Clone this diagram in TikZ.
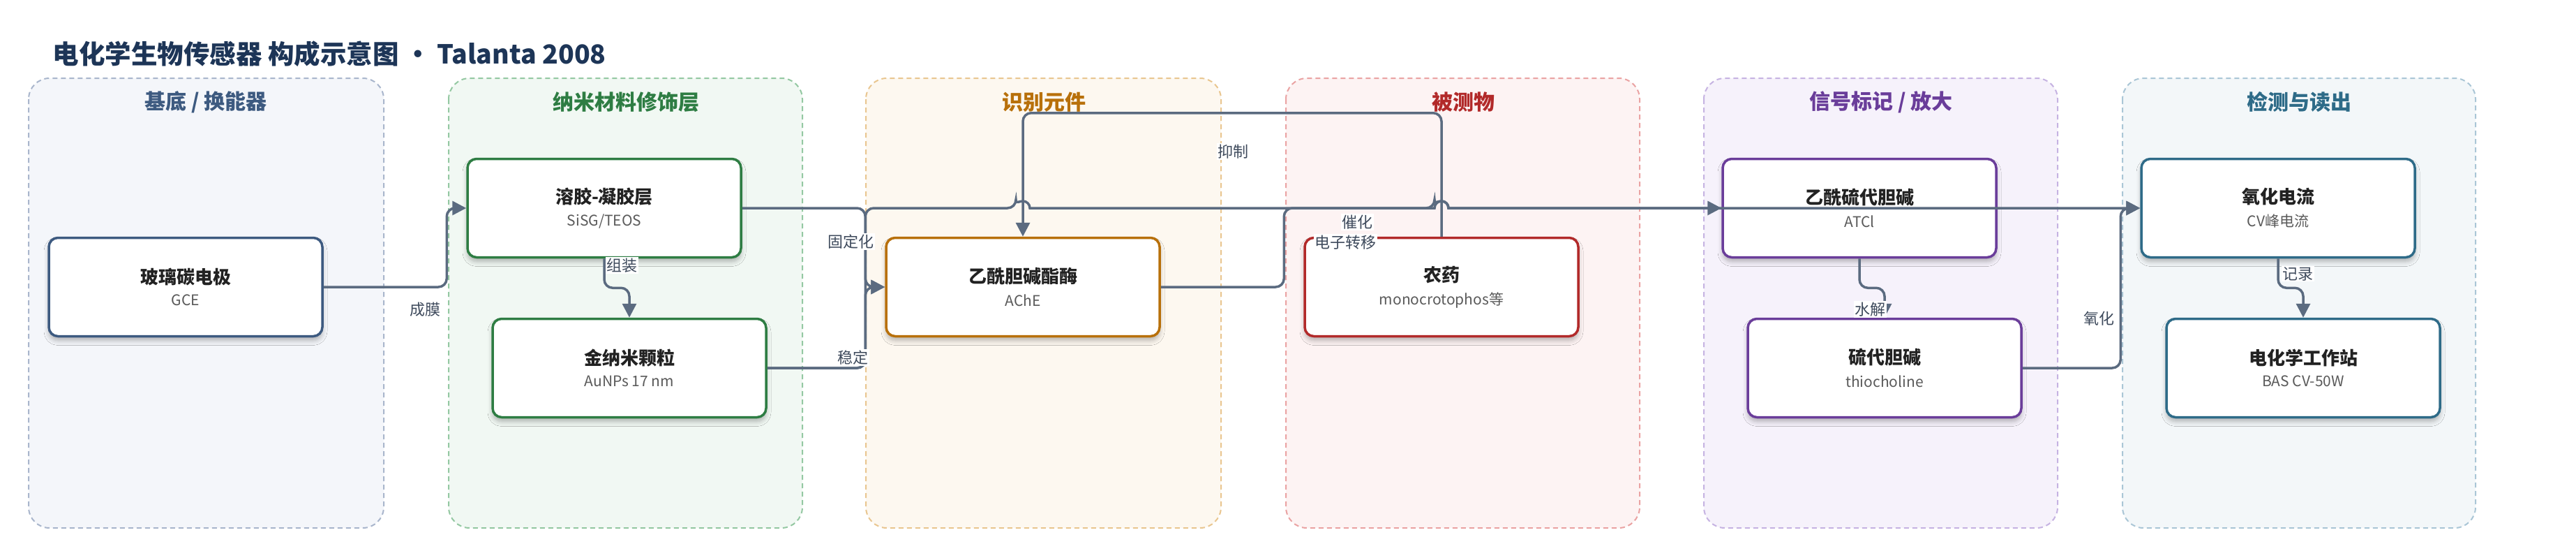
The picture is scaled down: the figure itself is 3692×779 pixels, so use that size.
\documentclass[tikz,border=0pt]{standalone}
\usepackage{fontspec}
\setmainfont{Noto Sans CJK SC}
\usetikzlibrary{arrows.meta,calc,shadows.blur}

\definecolor{titlecol}{HTML}{1D3557}
\definecolor{edgecol}{HTML}{5B6B80}
\definecolor{labelcol}{HTML}{3E4A5C}
\definecolor{namecol}{HTML}{222222}
\definecolor{subcol}{HTML}{5A5A5A}
% lane colours: line, fill, text
\definecolor{baseline}{HTML}{A9B6CC}\definecolor{basefill}{HTML}{F4F6FA}\definecolor{basetext}{HTML}{3D5A80}
\definecolor{nanoline}{HTML}{94C8A2}\definecolor{nanofill}{HTML}{F1F8F3}\definecolor{nanotext}{HTML}{2E7D43}
\definecolor{recline}{HTML}{E9C690}\definecolor{recfill}{HTML}{FDF8F0}\definecolor{rectext}{HTML}{B8700A}
\definecolor{anaine}{HTML}{EAA3A3}\definecolor{anafill}{HTML}{FDF3F3}\definecolor{anatext}{HTML}{B22A2A}
\definecolor{sigline}{HTML}{C6B3E2}\definecolor{sigfill}{HTML}{F6F2FB}\definecolor{sigtext}{HTML}{6A3D9A}
\definecolor{detline}{HTML}{AAC6D6}\definecolor{detfill}{HTML}{F3F7F9}\definecolor{dettext}{HTML}{2E6B88}

\newcommand{\boxtext}[2]{{\fontsize{26}{30}\selectfont\bfseries\color{namecol}#1}\\[12pt]{\fontsize{21}{25}\selectfont\color{subcol}#2}}

\tikzset{
	lane/.style={rounded corners=30pt, dash pattern=on 7pt off 5pt, line width=2pt},
	lanetitle/.style={font=\fontsize{30}{34}\selectfont\bfseries},
	box/.style={draw=#1, line width=3.5pt, fill=white, rounded corners=13pt,
		minimum width=392pt, minimum height=141pt, align=center,
		blur shadow={shadow xshift=0pt, shadow yshift=-6pt, shadow blur radius=7pt, shadow opacity=28}},
	edge/.style={draw=edgecol, line width=3.5pt, rounded corners=12pt, -{Triangle[length=20pt,width=20pt]}},
	edgelabel/.style={fill=white, text=labelcol, font=\fontsize{22}{26}\selectfont, inner sep=1.5pt}
}

\begin{document}
\begin{tikzpicture}[x=1pt, y=1pt]
		%%%%% START %%%%%
		
		\useasboundingbox (0, 0) rectangle (3692, -779);
		\fill[white] (0, 0) rectangle (3692, -779);
		
		\node[anchor=west, text=titlecol, font=\fontsize{37.5}{42}\selectfont\bfseries] (title) at (72, -77) {电化学生物传感器 构成示意图 · Talanta 2008};
		
		% lanes
		\draw[lane, draw=baseline, fill=basefill] (41, -112) rectangle (550, -756);
		\draw[lane, draw=nanoline, fill=nanofill] (643, -112) rectangle (1150, -756);
		\draw[lane, draw=recline, fill=recfill] (1241, -112) rectangle (1750, -756);
		\draw[lane, draw=anaine, fill=anafill] (1843, -112) rectangle (2350, -756);
		\draw[lane, draw=sigline, fill=sigfill] (2442, -112) rectangle (2949, -756);
		\draw[lane, draw=detline, fill=detfill] (3042, -112) rectangle (3548, -756);
		
		\node[lanetitle, text=basetext] (lanebase) at (295, -146) {基底 / 换能器};
		\node[lanetitle, text=nanotext] (lanenano) at (897, -146) {纳米材料修饰层};
		\node[lanetitle, text=rectext] (lanerec) at (1496, -146) {识别元件};
		\node[lanetitle, text=anatext] (laneana) at (2097, -146) {被测物};
		\node[lanetitle, text=sigtext] (lanesig) at (2696, -146) {信号标记 / 放大};
		\node[lanetitle, text=dettext] (lanedet) at (3295, -146) {检测与读出};
		
		% boxes
		\node[box=basetext] (gce) at (266, -411) {\boxtext{玻璃碳电极}{GCE}};
		\node[box=nanotext] (sol) at (866, -298) {\boxtext{溶胶-凝胶层}{SiSG/TEOS}};
		\node[box=nanotext] (aunp) at (902, -527) {\boxtext{金纳米颗粒}{AuNPs 17 nm}};
		\node[box=rectext] (ache) at (1466, -411) {\boxtext{乙酰胆碱酯酶}{AChE}};
		\node[box=anatext] (pest) at (2066, -411) {\boxtext{农药}{monocrotophos等}};
		\node[box=sigtext] (atcl) at (2665, -298) {\boxtext{乙酰硫代胆碱}{ATCl}};
		\node[box=sigtext] (thio) at (2701, -527) {\boxtext{硫代胆碱}{thiocholine}};
		\node[box=dettext] (ox) at (3265, -298) {\boxtext{氧化电流}{CV峰电流}};
		\node[box=dettext] (ws) at (3301, -527) {\boxtext{电化学工作站}{BAS CV-50W}};
		
		% connectors
		\draw[edge] (gce.east) -| ($(sol.west)+(-28, 0)$) -- (sol.west);
		\draw[edge] (sol.south) -- ++(0, -42) -| (aunp.north);
		\draw[edge] (sol.east) -| ($(ache.west)+(-28, 0)$) -- (ache.west);
		\draw[edge] (aunp.east) -| ($(ache.west)+(-28, 0)$) -- (ache.west);
		\draw[edge] (pest.north) -- ++(0, 177) -| (ache.north);
		\draw[edge] (aunp.east) -| ($(ache.west |- sol.east)+(-28, 0)$) -- ($(ache.north |- sol.east)+(-10, 0)$)
			[sharp corners] arc[start angle=180, end angle=0, radius=10] -- ($(pest.north |- sol.east)+(-10, 0)$)
			arc[start angle=180, end angle=0, radius=10] -- (ox.west);
		\draw[edge] (ache.east) -| ($(pest.west |- atcl.west)+(-28, 0)$) -- ($(pest.north |- atcl.west)+(-10, 0)$)
			[sharp corners] arc[start angle=180, end angle=0, radius=10] -- (atcl.west);
		\draw[edge] (atcl.south) -- ++(0, -42) -| (thio.north);
		\draw[edge] (thio.east) -| ($(ox.west)+(-28, 0)$) -- (ox.west);
		\draw[edge] (ox.south) -- ++(0, -42) -| (ws.north);
		
		% connector labels
		\node[edgelabel] (lblfilm) at (609, -443) {成膜};
		\node[edgelabel] (lblassem) at (891, -380) {组装};
		\node[edgelabel] (lblimmob) at (1219, -346) {固定化};
		\node[edgelabel] (lblstab) at (1222, -512) {稳定};
		\node[edgelabel] (lblinhib) at (1767, -217) {抑制};
		\node[edgelabel] (lblcatal) at (1945, -318) {催化};
		\node[edgelabel] (lblelec) at (1928, -347) {电子转移};
		\node[edgelabel] (lblhydro) at (2680, -443) {水解};
		\node[edgelabel] (lbloxid) at (3008, -456) {氧化};
		\node[edgelabel] (lblrec) at (3293, -392) {记录};
		
		%%%%% END %%%%%
	\end{tikzpicture}
\end{document}
